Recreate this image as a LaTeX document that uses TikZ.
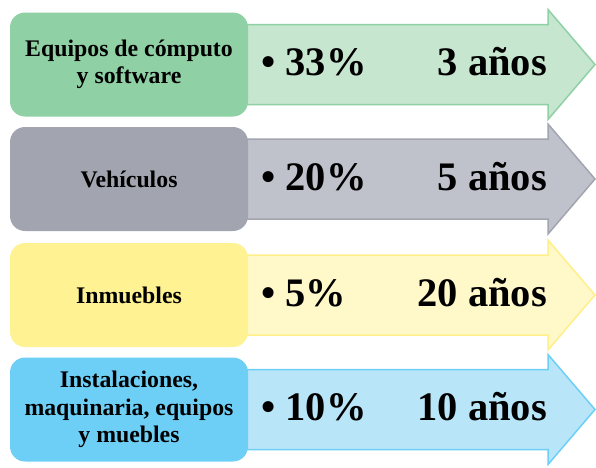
\documentclass[tikz,border=0pt]{standalone}
\usepackage{fontspec}
\setmainfont{Liberation Serif}
\definecolor{gA}{HTML}{8FD0A4}
\definecolor{gB}{HTML}{C6E6D0}
\definecolor{sA}{HTML}{A2A5AF}
\definecolor{sB}{HTML}{C0C2CB}
\definecolor{yA}{HTML}{FEF292}
\definecolor{yB}{HTML}{FFF8C9}
\definecolor{yC}{HTML}{FFEF8A}
\definecolor{bA}{HTML}{6DCFF6}
\definecolor{bB}{HTML}{B9E5F9}
\tikzset{
  catbox/.style={rounded corners=15pt, minimum width=238pt, minimum height=104pt,
    inner sep=0pt, align=center, font=\fontsize{23.8}{27.5}\selectfont\bfseries},
  arrowshape/.style={line width=1.5pt, line join=miter},
  bigtext/.style={inner sep=0pt, font=\fontsize{40.5}{44}\selectfont\bfseries},
}
\begin{document}
\begin{tikzpicture}[x=1pt,y=-1pt]
\useasboundingbox (0,0) rectangle (596,467);
% arrows
\foreach \c/\fa/\fb in {64.5/gB/gA, 179/sB/sA, 295/yB/yC, 409.5/bB/bA}{
  \draw[arrowshape, fill=\fa, draw=\fb] (240,\c-40) -- (548,\c-40) -- (548,\c-55) -- (595,\c)
     -- (548,\c+55) -- (548,\c+40) -- (240,\c+40) -- cycle;
}
% category boxes
\node[catbox, fill=gA] (c1) at (129,64.5) {Equipos de cómputo\\y software};
\node[catbox, fill=sA] (c2) at (129,179) {Vehículos};
\node[catbox, fill=yA] (c3) at (129,295) {Inmuebles};
\node[catbox, fill=bA] (c4) at (129,409.5) {Instalaciones,\\maquinaria, equipos\\y muebles};
% rates
\node[bigtext, anchor=base west] (p1) at (261,75.5) {•\ 33\%};
\node[bigtext, anchor=base west] (p2) at (261,190) {•\ 20\%};
\node[bigtext, anchor=base west] (p3) at (261,306) {•\ 5\%};
\node[bigtext, anchor=base west] (p4) at (261,420.5) {•\ 10\%};
% years
\node[bigtext, anchor=base east] (y1) at (547,75.5) {3 años};
\node[bigtext, anchor=base east] (y2) at (547,190) {5 años};
\node[bigtext, anchor=base east] (y3) at (547,306) {20 años};
\node[bigtext, anchor=base east] (y4) at (547,420.5) {10 años};
\end{tikzpicture}
\end{document}
